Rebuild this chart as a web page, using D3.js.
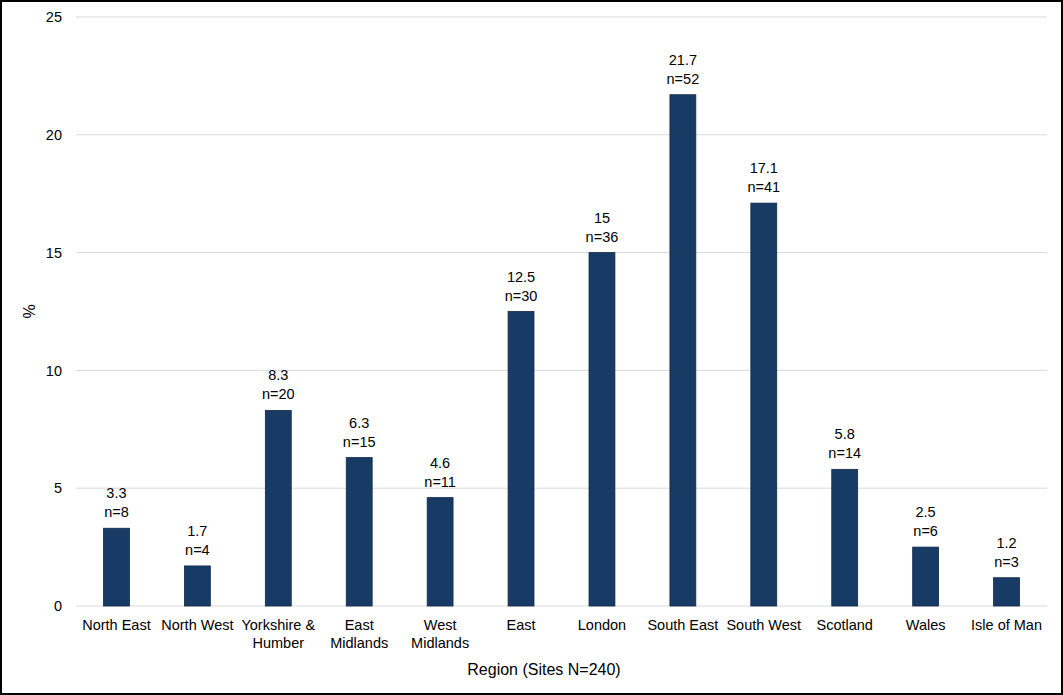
<!DOCTYPE html>
<html>
<head>
<meta charset="utf-8">
<script src="https://cdn.jsdelivr.net/npm/d3@7"></script>
<style>
  html, body { margin: 0; padding: 0; background: #fff; }
  svg { display: block; font-family: "Liberation Sans", Arial, sans-serif; }
</style>
</head>
<body>
<svg id="chart" width="1063" height="695"></svg>
<script>
'use strict';

// Chart data
var regions = [
    ['North East'], ['North West'], ['Yorkshire &', 'Humber'], ['East', 'Midlands'],
    ['West', 'Midlands'], ['East'], ['London'], ['South East'], ['South West'],
    ['Scotland'], ['Wales'], ['Isle of Man']
];
var percents = [3.3, 1.7, 8.3, 6.3, 4.6, 12.5, 15, 21.7, 17.1, 5.8, 2.5, 1.2];
var counts = [8, 4, 20, 15, 11, 30, 36, 52, 41, 14, 6, 3];
var yTicks = [0, 5, 10, 15, 20, 25];

function drawChart() {

    var W = 1063, H = 695,
        mLeft = 76, mRight = 1047, mTop = 17, mBottom = 606;

    var svg = d3.select('#chart');

    // Outer frame
    svg.append('rect')
        .attr('x', 1).attr('y', 1)
        .attr('width', W - 2).attr('height', H - 2)
        .attr('fill', 'none').attr('stroke', '#000').attr('stroke-width', 2);

    var x = d3.scaleBand()
        .domain(d3.range(regions.length))
        .range([mLeft, mRight])
        .paddingInner(0.68)
        .paddingOuter(0.34);

    var y = d3.scaleLinear().domain([0, 25]).range([mBottom, mTop]);

    // Gridlines
    svg.append('g')
        .selectAll('line')
        .data(yTicks)
        .join('line')
        .attr('x1', mLeft).attr('x2', mRight)
        .attr('y1', function (d) { return y(d); })
        .attr('y2', function (d) { return y(d); })
        .attr('stroke', '#d9d9d9').attr('stroke-width', 1);

    // Y axis labels
    var yAxis = svg.append('g')
        .attr('transform', 'translate(' + (mLeft - 14) + ',0)')
        .call(d3.axisLeft(y).tickValues(yTicks).tickSize(0).tickPadding(0));
    yAxis.select('.domain').remove();
    yAxis.selectAll('text')
        .attr('font-size', 14.5).attr('fill', '#000')
        .attr('font-family', '"Liberation Sans", Arial, sans-serif');

    // Bars
    svg.append('g')
        .selectAll('rect')
        .data(percents)
        .join('rect')
        .attr('x', function (d, i) { return x(i); })
        .attr('width', x.bandwidth())
        .attr('y', function (d) { return y(d); })
        .attr('height', function (d) { return y(0) - y(d); })
        .attr('fill', '#173b65')
        .attr('stroke', '#10294a').attr('stroke-width', 0.8);

    // Data labels
    var labels = svg.append('g')
        .attr('font-size', 14.5).attr('fill', '#000').attr('text-anchor', 'middle');

    labels.selectAll('text.val')
        .data(percents)
        .join('text')
        .attr('class', 'val')
        .attr('x', function (d, i) { return x(i) + x.bandwidth() / 2; })
        .attr('y', function (d) { return y(d) - 30; })
        .text(function (d) { return d; });

    labels.selectAll('text.n')
        .data(counts)
        .join('text')
        .attr('class', 'n')
        .attr('x', function (d, i) { return x(i) + x.bandwidth() / 2; })
        .attr('y', function (d, i) { return y(percents[i]) - 11; })
        .text(function (d) { return 'n=' + d; });

    // Category labels
    var cats = svg.append('g')
        .attr('font-size', 14.5).attr('fill', '#000').attr('text-anchor', 'middle');

    cats.selectAll('text')
        .data(regions)
        .join('text')
        .attr('x', function (d, i) { return x(i) + x.bandwidth() / 2; })
        .attr('y', 630)
        .each(function (lines) {
            var t = d3.select(this);
            lines.forEach(function (s, k) {
                t.append('tspan')
                    .attr('x', t.attr('x'))
                    .attr('dy', k === 0 ? 0 : 18)
                    .text(s);
            });
        });

    // Axis titles
    svg.append('text')
        .attr('x', 544).attr('y', 675)
        .attr('text-anchor', 'middle').attr('font-size', 16)
        .text('Region (Sites N=240)');

    svg.append('text')
        .attr('transform', 'translate(35,' + ((mTop + mBottom) / 2) + ') rotate(-90)')
        .attr('text-anchor', 'middle').attr('font-size', 16)
        .text('%');
}

drawChart();
</script>
</body>
</html>
